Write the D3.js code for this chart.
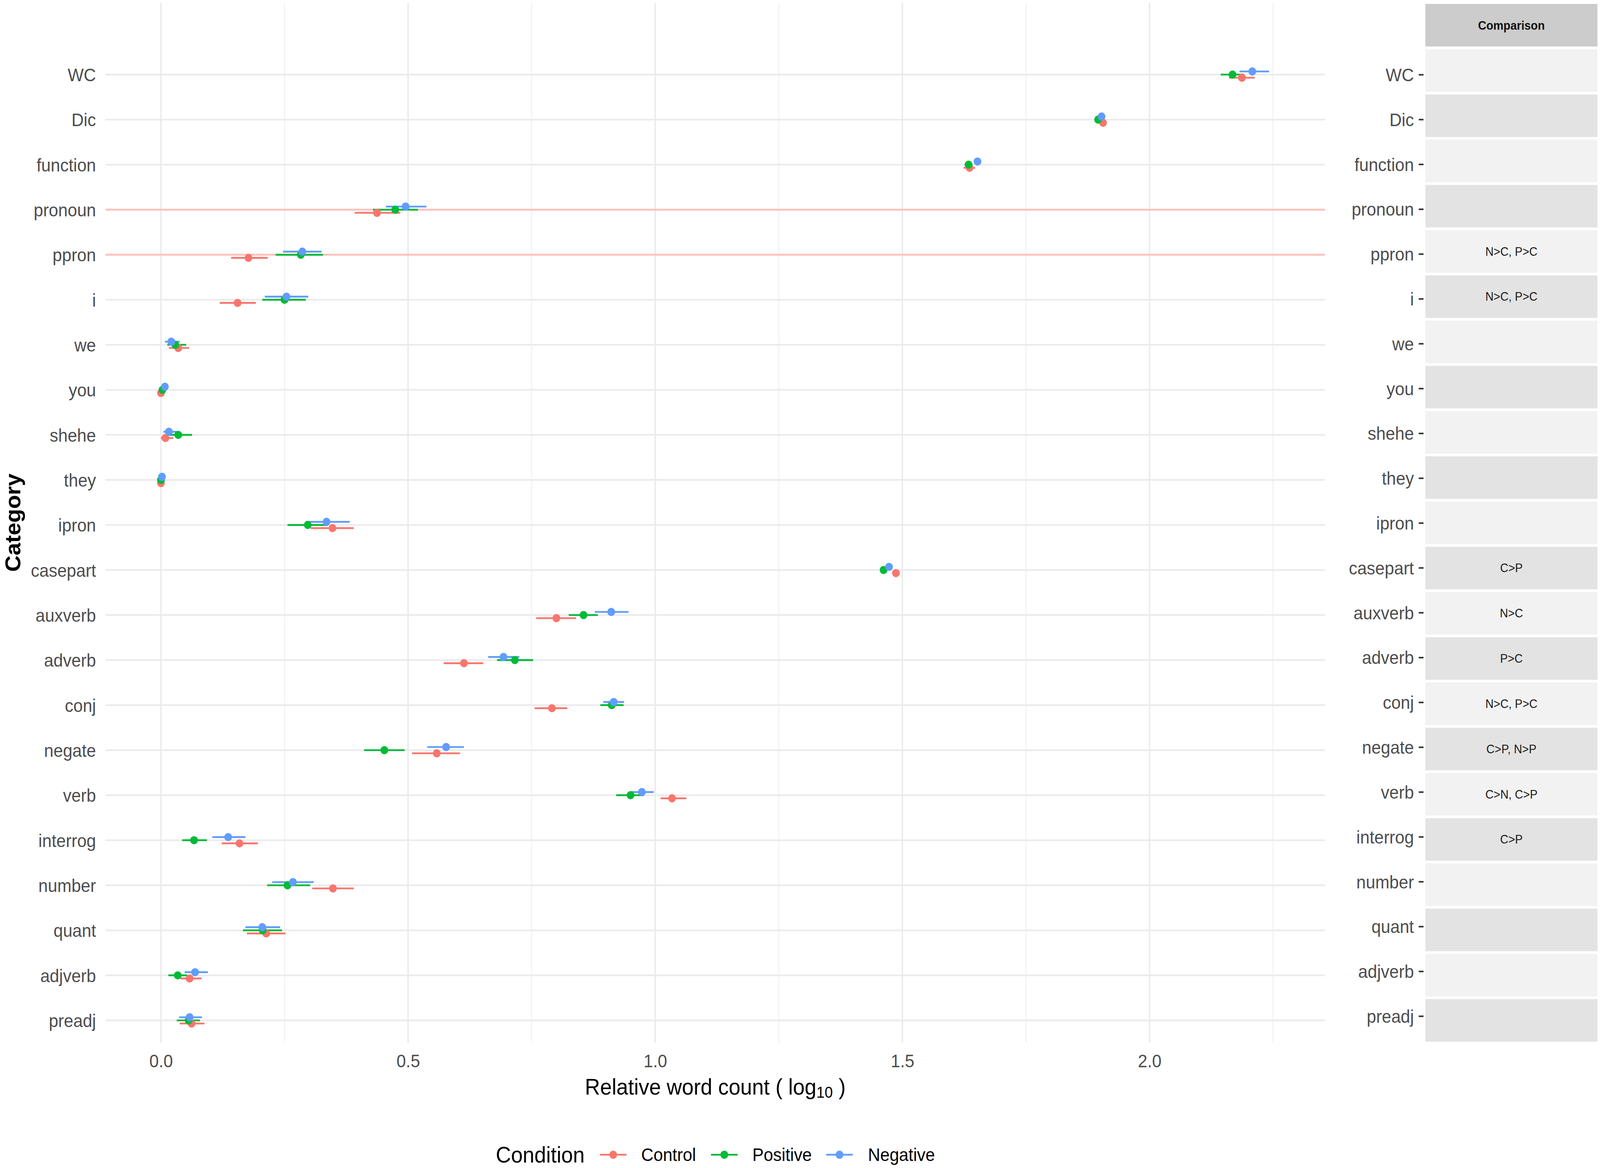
<!DOCTYPE html>
<html>
<head>
<meta charset="utf-8">
<script src="https://cdn.jsdelivr.net/npm/d3@7"></script>
<style>
  html, body { margin: 0; padding: 0; background: #ffffff; overflow: hidden; width: 100%; height: 100%; }
  svg { display: block; width: 100vw; height: 100vh; }
</style>
</head>
<body>
<svg id="chart" viewBox="0 0 4334 2991" preserveAspectRatio="none"></svg>
<script>
// ---------------- DATA ----------------
const categories = ["WC","Dic","function","pronoun","ppron","i","we","you","shehe","they","ipron",
  "casepart","auxverb","adverb","conj","negate","verb","interrog","number","quant","adjverb","preadj"];

const conditions = ["Control","Positive","Negative"];
const conditionColors = ["#F8766D","#00BA38","#619CFF"];

const controlMean = [2.187,1.906,1.636,0.437,0.177,0.155,0.035,0.000,0.009,0.000,0.347,
  1.487,0.800,0.613,0.791,0.558,1.034,0.159,0.348,0.213,0.058,0.062];
const controlLow  = [2.161,1.900,1.624,0.392,0.142,0.119,0.016,-0.003,0.000,-0.002,0.303,
  1.480,0.759,0.572,0.756,0.508,1.011,0.123,0.306,0.174,0.039,0.038];
const controlHigh = [2.213,1.912,1.647,0.484,0.216,0.192,0.057,0.003,0.025,0.002,0.390,
  1.494,0.840,0.652,0.822,0.605,1.063,0.196,0.390,0.252,0.082,0.088];

const positiveMean = [2.168,1.896,1.634,0.474,0.283,0.250,0.029,0.003,0.035,0.000,0.297,
  1.462,0.855,0.716,0.912,0.452,0.950,0.067,0.256,0.206,0.034,0.056];
const positiveLow  = [2.144,1.890,1.626,0.429,0.232,0.205,0.013,0.000,0.013,-0.002,0.256,
  1.456,0.825,0.680,0.889,0.411,0.921,0.043,0.215,0.166,0.015,0.032];
const positiveHigh = [2.191,1.902,1.642,0.520,0.328,0.293,0.051,0.006,0.063,0.002,0.338,
  1.468,0.884,0.753,0.936,0.493,0.977,0.093,0.302,0.245,0.053,0.079];

const negativeMean = [2.208,1.903,1.652,0.495,0.286,0.254,0.021,0.008,0.016,0.002,0.335,
  1.473,0.911,0.693,0.916,0.577,0.973,0.136,0.267,0.205,0.069,0.058];
const negativeLow  = [2.182,1.897,1.645,0.455,0.247,0.210,0.008,0.004,0.005,0.000,0.293,
  1.467,0.878,0.662,0.895,0.539,0.950,0.104,0.225,0.171,0.048,0.037];
const negativeHigh = [2.242,1.909,1.659,0.537,0.325,0.298,0.038,0.012,0.032,0.004,0.382,
  1.479,0.946,0.725,0.937,0.613,0.997,0.171,0.309,0.241,0.095,0.083];

const comparisons = ["","","","","N>C, P>C","N>C, P>C","","","","","",
  "C>P","N>C","P>C","N>C, P>C","C>P, N>P","C>N, C>P","C>P","","","",""];

const highlighted = ["pronoun","ppron"];

const xMajorTicks = [0, 0.5, 1.0, 1.5, 2.0];
const xMinorTicks = [0.25, 0.75, 1.25, 1.75, 2.25];

const xTitle = "Relative word count ( log";
const xTitleSub = "10";
const yTitle = "Category";
const legendTitle = "Condition";
const stripTitle = "Comparison";

// ---------------- BUILD ----------------
const means = [controlMean, positiveMean, negativeMean];
const lows = [controlLow, positiveLow, negativeLow];
const highs = [controlHigh, positiveHigh, negativeHigh];
const dodge = [8, 0, -8];

const records = [];
conditions.forEach((c, ci) => {
  categories.forEach((cat, i) => {
    records.push({cond: c, ci: ci, cat: cat, mean: means[ci][i], lo: lows[ci][i], hi: highs[ci][i]});
  });
});

const FONT = "'Liberation Sans', Arial, Helvetica, sans-serif";
const svg = d3.select("#chart");
svg.append("rect").attr("width", 4334).attr("height", 2991).attr("fill", "#ffffff");

const panel = {left: 286, right: 3589, top: 7, bottom: 2670};
const x = d3.scaleLinear().domain([-0.112, 2.355]).range([panel.left, panel.right]);
const y = d3.scalePoint().domain(categories).range([191, 2613]);

// grid
const grid = svg.append("g");
grid.selectAll(".vminor").data(xMinorTicks).join("line")
  .attr("x1", d => x(d)).attr("x2", d => x(d))
  .attr("y1", panel.top).attr("y2", panel.bottom)
  .attr("stroke", "#EEEEEE").attr("stroke-width", 2.2);
grid.selectAll(".vmajor").data(xMajorTicks).join("line")
  .attr("x1", d => x(d)).attr("x2", d => x(d))
  .attr("y1", panel.top).attr("y2", panel.bottom)
  .attr("stroke", "#EBEBEB").attr("stroke-width", 4);
grid.selectAll(".hmajor").data(categories).join("line")
  .attr("x1", panel.left).attr("x2", panel.right)
  .attr("y1", d => y(d)).attr("y2", d => y(d))
  .attr("stroke", d => highlighted.includes(d) ? "#FBC3BD" : "#EBEBEB")
  .attr("stroke-width", d => highlighted.includes(d) ? 5 : 4.4);

// error bars
const marks = svg.append("g");
marks.selectAll(".err").data(records).join("line")
  .attr("x1", d => x(d.lo)).attr("x2", d => x(d.hi))
  .attr("y1", d => y(d.cat) + dodge[d.ci]).attr("y2", d => y(d.cat) + dodge[d.ci])
  .attr("stroke", d => conditionColors[d.ci]).attr("stroke-width", 4.6);
// points
marks.selectAll(".pt").data(records).join("circle")
  .attr("cx", d => x(d.mean)).attr("cy", d => y(d.cat) + dodge[d.ci])
  .attr("r", 10.5).attr("fill", d => conditionColors[d.ci]);

// left axis
const yAxisG = svg.append("g").attr("transform", `translate(${panel.left},0)`)
  .call(d3.axisLeft(y).tickSize(0).tickPadding(26));
yAxisG.select(".domain").remove();
yAxisG.selectAll("text").attr("font-family", FONT).attr("font-size", 46)
  .attr("fill", "#4D4D4D").attr("dy", null).attr("dominant-baseline", "central");

// bottom axis
const xAxisG = svg.append("g").attr("transform", `translate(0,${panel.bottom})`)
  .call(d3.axisBottom(x).tickValues(xMajorTicks).tickFormat(d3.format(".1f")).tickSize(0));
xAxisG.select(".domain").remove();
xAxisG.selectAll("text").attr("font-family", FONT).attr("font-size", 46)
  .attr("fill", "#4D4D4D").attr("y", 47).attr("dy", null).attr("dominant-baseline", "central");

// axis titles
const xt = svg.append("text").attr("x", (panel.left + panel.right) / 2).attr("y", 2783)
  .attr("text-anchor", "middle").attr("dominant-baseline", "central")
  .attr("font-family", FONT).attr("font-size", 57).attr("fill", "#000");
xt.append("tspan").text(xTitle);
xt.append("tspan").text(xTitleSub).attr("font-size", 40).attr("dy", 14);
xt.append("tspan").text(" )").attr("dy", -14);

svg.append("text").attr("transform", `translate(35,${(panel.top + panel.bottom) / 2}) rotate(-90)`)
  .attr("text-anchor", "middle").attr("dominant-baseline", "central")
  .attr("font-family", FONT).attr("font-size", 58).attr("font-weight", "bold").attr("fill", "#000")
  .text(yTitle);

// ---------------- RIGHT COMPARISON STRIP ----------------
const strip = {left: 3861, right: 4327};
const yLab = d3.scalePoint().domain(categories).range([191, 2602]);
const yTile = d3.scalePoint().domain(categories).range([180.5, 2613]);
const tileH = 109;

svg.append("rect").attr("x", strip.left).attr("y", 10)
  .attr("width", strip.right - strip.left).attr("height", 109).attr("fill", "#CCCCCC");
svg.append("text").attr("x", (strip.left + strip.right) / 2).attr("y", 65)
  .attr("text-anchor", "middle").attr("dominant-baseline", "central")
  .attr("font-family", FONT).attr("font-size", 31).attr("font-weight", "bold").attr("fill", "#111")
  .text(stripTitle);

const tiles = svg.append("g");
tiles.selectAll("rect").data(categories).join("rect")
  .attr("x", strip.left).attr("width", strip.right - strip.left)
  .attr("y", d => yTile(d) - tileH / 2).attr("height", tileH)
  .attr("fill", (d, i) => i % 2 === 0 ? "#F2F2F2" : "#E3E3E3");
tiles.selectAll("text").data(categories).join("text")
  .attr("x", (strip.left + strip.right) / 2).attr("y", d => yTile(d))
  .attr("text-anchor", "middle").attr("dominant-baseline", "central")
  .attr("font-family", FONT).attr("font-size", 31).attr("fill", "#1A1A1A")
  .text((d, i) => comparisons[i]);

const rAxisG = svg.append("g").attr("transform", `translate(3856,0)`)
  .call(d3.axisLeft(yLab).tickSize(13).tickPadding(13));
rAxisG.select(".domain").remove();
rAxisG.selectAll("line").attr("stroke", "#333333").attr("stroke-width", 4);
rAxisG.selectAll("text").attr("font-family", FONT).attr("font-size", 46)
  .attr("fill", "#4D4D4D").attr("dy", null).attr("dominant-baseline", "central");

// ---------------- LEGEND ----------------
const legY = 2957;
svg.append("text").attr("x", 1343).attr("y", legY).attr("dominant-baseline", "central")
  .attr("font-family", FONT).attr("font-size", 57).attr("fill", "#000").text(legendTitle);
const keyCenters = [1661, 1962, 2274];
const labelStarts = [1737, 2038, 2351];
const leg = svg.append("g");
conditions.forEach((c, i) => {
  leg.append("line").attr("x1", keyCenters[i] - 36).attr("x2", keyCenters[i] + 36)
    .attr("y1", legY).attr("y2", legY).attr("stroke", conditionColors[i]).attr("stroke-width", 4.6);
  leg.append("circle").attr("cx", keyCenters[i]).attr("cy", legY).attr("r", 10.5)
    .attr("fill", conditionColors[i]);
  leg.append("text").attr("x", labelStarts[i]).attr("y", legY).attr("dominant-baseline", "central")
    .attr("font-family", FONT).attr("font-size", 46).attr("fill", "#000").text(c);
});
</script>
</body>
</html>
